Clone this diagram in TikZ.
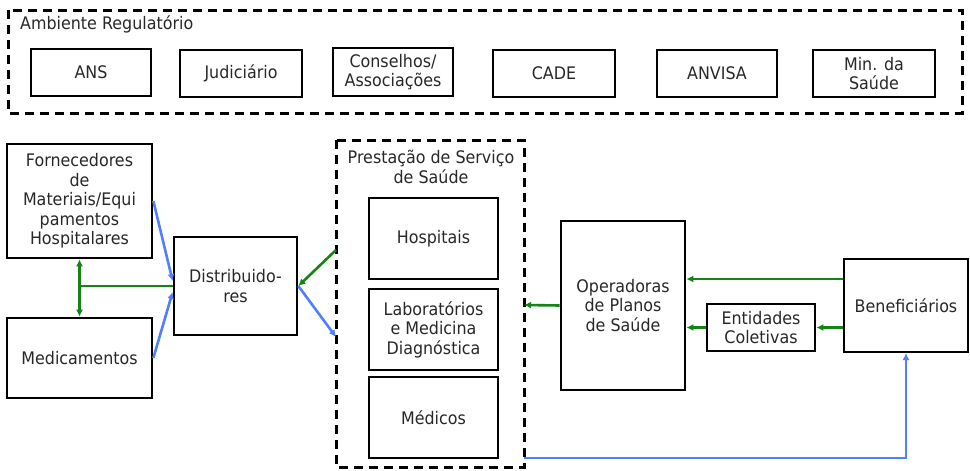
\documentclass[tikz,border=0pt]{standalone}
\usepackage{fontspec}
\setmainfont{DejaVu Sans}[FakeStretch=0.92]
\usetikzlibrary{arrows.meta}
\definecolor{flowgreen}{RGB}{20,132,20}
\definecolor{flowblue}{RGB}{80,128,255}
\definecolor{txt}{RGB}{40,40,40}
\tikzset{
  box/.style={draw=black, line width=2.7pt, rectangle, inner sep=0pt, align=center,
    text=txt, font=\fontsize{17.3}{19.5}\selectfont},
  lbl/.style={inner sep=0pt, align=center, text=txt, font=\fontsize{17.3}{19.5}\selectfont},
  groupbox/.style={draw=black, line width=3pt, dash pattern=on 9pt off 6pt},
  gline/.style={draw=flowgreen, line width=2.6pt},
  bline/.style={draw=flowblue, line width=2.6pt},
  tip/.style={-{Latex[length=7pt,width=7pt]}},
  twotip/.style={{Latex[length=7pt,width=7pt]}-{Latex[length=7pt,width=7pt]}},
}
\begin{document}
\begin{tikzpicture}[x=1pt,y=-1pt]
\useasboundingbox (0,0) rectangle (970,471);
\fill[white] (0,0) rectangle (970,471);

% Ambiente Regulatorio group
\draw[groupbox] (8,10) rectangle (962,113);
\node[lbl, anchor=base west] (amb) at (20,29) {Ambiente Regulatório};
\node[box, minimum width=120pt, minimum height=47pt] (ans) at (91,72.5) {ANS};
\node[box, minimum width=122pt, minimum height=47pt] (jud) at (241,73.5) {Judiciário};
\node[box, minimum width=120pt, minimum height=48pt] (cons) at (393,72) {Conselhos/\\Associações};
\node[box, minimum width=122pt, minimum height=47pt] (cade) at (554,73.5) {CADE};
\node[box, minimum width=120pt, minimum height=47pt] (anvisa) at (717,73.5) {ANVISA};
\node[box, minimum width=122pt, minimum height=47pt] (min) at (874,73.5) {Min. da\\Saúde};

% Left side
\node[box, minimum width=145pt, minimum height=114pt] (forn) at (79.5,201) {Fornecedores\\de\\Materiais/Equi\\pamentos\\Hospitalares};
\node[box, minimum width=145pt, minimum height=80pt] (med) at (79.5,358) {Medicamentos};
\node[box, minimum width=123pt, minimum height=98pt] (dist) at (235.5,286) {Distribuido-\\res};

% Prestacao group
\draw[groupbox] (336,140) rectangle (524,467);
\node[lbl] (prest) at (431,167) {Prestação de Serviço\\de Saúde};
\node[box, minimum width=129pt, minimum height=81pt] (hosp) at (433.5,238.5) {Hospitais};
\node[box, minimum width=129pt, minimum height=81pt] (lab) at (433.5,329.5) {Laboratórios\\e Medicina\\Diagnóstica};
\node[box, minimum width=129pt, minimum height=81pt] (medi) at (433.5,417.5) {Médicos};

% Right side
\node[box, minimum width=124pt, minimum height=169pt] (oper) at (623,305.5) {Operadoras\\de Planos\\de Saúde};
\node[box, minimum width=108pt, minimum height=47pt] (ent) at (761,327.5) {Entidades\\Coletivas};
\node[box, line width=2pt, minimum width=124pt, minimum height=93pt] (ben) at (906,305.5) {Beneficiários};

% connector end points on the dashed group border
\coordinate (jn) at (79,286);
\coordinate (pgin) at (336,250);
\coordinate (pbin) at (336,337);
\coordinate (pgout) at (524,305);
\coordinate (pbout) at (524,458);

% green connectors
\draw[gline, twotip] (forn.south) -- (med.north);
\draw[gline] (jn) -- (dist.west);
\draw[gline, tip] (pgin) -- (dist.east);
\draw[gline, tip] (oper.west) -- (pgout);
\draw[gline, tip] (ben.west |- 0,279) -- (oper.east |- 0,279);
\draw[gline, tip] (ben.west |- ent.east) -- (ent.east);
\draw[gline, tip] (ent.west) -- (oper.east |- ent.west);

% blue connectors
\draw[bline, tip] (forn.east) -- ([yshift=5pt]dist.west);
\draw[bline, tip] (med.east) -- ([yshift=-6pt]dist.west);
\draw[bline, tip] (dist.east) -- (pbin);
\draw[bline, tip] (pbout) -| (ben.south);
\end{tikzpicture}
\end{document}
